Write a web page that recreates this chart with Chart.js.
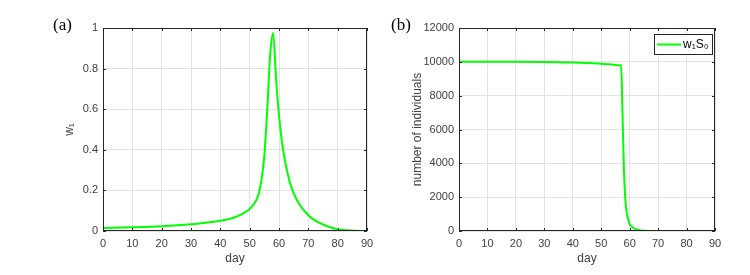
<!DOCTYPE html>
<html>
<head>
<meta charset="utf-8">
<script src="https://cdn.jsdelivr.net/npm/chart.js@4.4.0/dist/chart.umd.min.js"></script>
<style>
  body { margin: 0; background: #fff; }
  #wrap { position: relative; width: 750px; height: 275px; }
  .panel { position: absolute; top: 0; width: 375px; height: 275px; }
  .tag { position: absolute; top: 15px; font: 17px "Liberation Serif", serif; color: #000; }
</style>
</head>
<body>
<div id="wrap">
  <div class="panel" style="left:0"><canvas id="chartA"></canvas></div>
  <div class="panel" style="left:375px"><canvas id="chartB"></canvas></div>
  <div class="tag" style="left:53px">(a)</div>
  <div class="tag" style="left:391px">(b)</div>
</div>
<script>
// panel (a): w1 over time
const daysA = [0, 10, 20, 30, 40, 45, 48, 50, 52, 53, 54, 55, 56, 57, 58, 59, 60, 61, 62, 63, 64, 66, 68, 70, 72, 75, 78, 80, 83, 86, 90];
const w1 = [0.015, 0.018, 0.023, 0.033, 0.05, 0.068, 0.088, 0.108, 0.145, 0.18, 0.25, 0.37, 0.6, 0.87, 0.975, 0.75, 0.57, 0.44, 0.35, 0.28, 0.225, 0.155, 0.11, 0.078, 0.055, 0.032, 0.016, 0.009, 0.004, 0.001, 0.0];

// panel (b): w1*S0
const daysB = [0, 10, 20, 30, 40, 45, 50, 53, 55, 57, 57.5, 58, 58.5, 59, 60, 61, 62, 63, 65, 70, 80, 90];
const w1S0 = [10000, 10000, 10000, 9990, 9960, 9930, 9890, 9850, 9820, 9780, 6800, 3500, 1800, 1050, 420, 220, 120, 60, 15, 0, 0, 0];

const xTicks = [0, 10, 20, 30, 40, 50, 60, 70, 80, 90];
const yTicksA = [0, 0.2, 0.4, 0.6, 0.8, 1];
const yTicksB = [0, 2000, 4000, 6000, 8000, 10000, 12000];

const green = '#00ff00';
const txt = '#404040';
const font = { family: 'Liberation Sans, Arial, sans-serif', size: 11 };
const titleFont = { family: 'Liberation Sans, Arial, sans-serif', size: 12 };

// matlab style box + inner ticks
const boxPlugin = {
  id: 'box',
  afterDraw(chart) {
    const { ctx, chartArea: a, scales } = chart;
    ctx.save();
    ctx.strokeStyle = '#262626';
    ctx.lineWidth = 1;
    ctx.strokeRect(a.left + 0.5, a.top + 0.5, a.right - a.left - 1, a.bottom - a.top - 1);
    ctx.beginPath();
    scales.x.ticks.forEach(t => {
      const px = Math.round(scales.x.getPixelForValue(t.value)) + 0.5;
      ctx.moveTo(px, a.bottom); ctx.lineTo(px, a.bottom - 3);
      ctx.moveTo(px, a.top); ctx.lineTo(px, a.top + 3);
    });
    scales.y.ticks.forEach(t => {
      const py = Math.round(scales.y.getPixelForValue(t.value)) + 0.5;
      ctx.moveTo(a.left, py); ctx.lineTo(a.left + 3, py);
      ctx.moveTo(a.right, py); ctx.lineTo(a.right - 3, py);
    });
    ctx.stroke();
    ctx.restore();
  }
};

// boxed legend in the top-right corner
const legendPlugin = {
  id: 'boxLegend',
  afterDraw(chart, args, opts) {
    if (!opts.text) return;
    const { ctx, chartArea: a } = chart;
    const w = 58, h = 20;
    const x = a.right - w - 3, y = a.top + 6;
    ctx.save();
    ctx.fillStyle = '#fff';
    ctx.fillRect(x, y, w, h);
    ctx.strokeStyle = '#262626';
    ctx.lineWidth = 1;
    ctx.strokeRect(x + 0.5, y + 0.5, w, h);
    ctx.strokeStyle = green;
    ctx.lineWidth = 2;
    ctx.beginPath();
    ctx.moveTo(x + 3, y + 10.5);
    ctx.lineTo(x + 27, y + 10.5);
    ctx.stroke();
    ctx.fillStyle = '#000';
    ctx.font = '12px Liberation Sans, Arial, sans-serif';
    ctx.textBaseline = 'middle';
    ctx.fillText(opts.text, x + 29, y + 10.5);
    ctx.restore();
  }
};

function makeChart(id, xs, ys, yMax, yTicks, yTitle, pad, yWidth, legendText) {
  const pts = xs.map((d, i) => ({ x: d, y: ys[i] }));
  return new Chart(document.getElementById(id), {
    type: 'line',
    data: { datasets: [{ data: pts, borderColor: green, borderWidth: 2, pointRadius: 0, cubicInterpolationMode: 'monotone', fill: false }] },
    options: {
      responsive: false,
      animation: false,
      layout: { padding: pad },
      plugins: { legend: { display: false }, tooltip: { enabled: false }, boxLegend: { text: legendText } },
      scales: {
        x: {
          type: 'linear', min: 0, max: 90,
          afterBuildTicks: s => { s.ticks = xTicks.map(v => ({ value: v })); },
          afterFit: s => { s.height = 44; s.paddingLeft = 0; s.paddingRight = 0; },
          grid: { color: '#e3e3e3', drawTicks: false },
          border: { display: false },
          ticks: { color: txt, font: font, padding: 6, maxRotation: 0, callback: v => String(v) },
          title: { display: true, text: 'day', color: txt, font: titleFont, padding: { top: 0, bottom: 9 } }
        },
        y: {
          min: 0, max: yMax,
          afterBuildTicks: s => { s.ticks = yTicks.map(v => ({ value: v })); },
          afterFit: s => { s.width = yWidth; s.paddingTop = 0; s.paddingBottom = 0; },
          grid: { color: '#e3e3e3', drawTicks: false },
          border: { display: false },
          ticks: { color: txt, font: font, padding: 5, callback: v => String(v) },
          title: { display: true, text: yTitle, color: txt, font: titleFont, padding: 2 }
        }
      }
    },
    plugins: [boxPlugin, legendPlugin]
  });
}

function setSize(id) {
  const c = document.getElementById(id);
  c.width = 375; c.height = 275;
  c.style.width = '375px'; c.style.height = '275px';
}
setSize('chartA');
setSize('chartB');

makeChart('chartA', daysA, w1, 1, yTicksA, 'w₁', { left: 60, top: 28, right: 8, bottom: 0 }, 43, '');
makeChart('chartB', daysB, w1S0, 12000, yTicksB, 'number of individuals', { left: 33, top: 28, right: 35, bottom: 0 }, 51, 'w₁S₀');
</script>
</body>
</html>
